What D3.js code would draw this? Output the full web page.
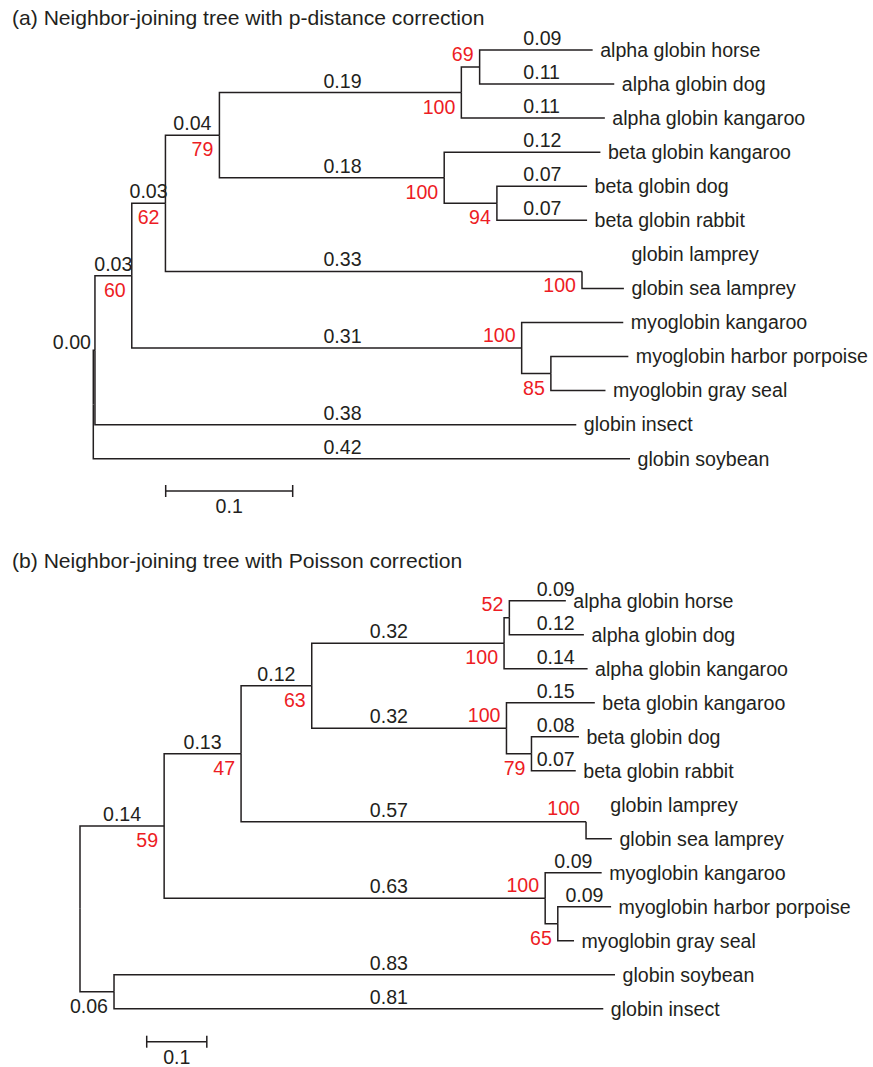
<!DOCTYPE html>
<html><head><meta charset="utf-8">
<script src="https://cdn.jsdelivr.net/npm/d3@7"></script>
<style>
body{margin:0;background:#fff}
svg{display:block}
text{font-family:"Liberation Sans",Arial,Helvetica,sans-serif;font-size:19.6px;fill:#231f20}
text.title{font-size:21.1px}
</style>
</head><body>
<svg id="chart" width="873" height="1067"></svg>
<script>
// ---------- Tree (a): p-distance ----------
const aIds = ["root","n00","n60","n62","n79","nAlpha","n69","alpha globin horse","alpha globin dog","alpha globin kangaroo","nBeta","beta globin kangaroo","n94","beta globin dog","beta globin rabbit","nLamprey","globin lamprey","globin sea lamprey","nMyo","myoglobin kangaroo","n85","myoglobin harbor porpoise","myoglobin gray seal","globin insect","globin soybean"];
const aParents = ["","root","n00","n60","n62","n79","nAlpha","n69","n69","nAlpha","n79","nBeta","nBeta","n94","n94","n62","nLamprey","nLamprey","n60","nMyo","nMyo","n85","n85","n00","root"];
const aLengths = [0,0.0013,0.029,0.0265,0.0425,0.1905,0.0144,0.089,0.106,0.113,0.177,0.123,0.0415,0.071,0.071,0.328,0.033,0.033,0.307,0.080,0.023,0.061,0.043,0.379,0.4226];
const aBootstrap = [null,null,60,62,79,100,69,null,null,null,100,null,94,null,null,100,null,null,100,null,85,null,null,null,null];
const aShowLength = [false,true,true,true,true,true,false,true,true,true,true,true,false,true,true,true,false,false,true,false,false,false,false,true,true];

// ---------- Tree (b): Poisson ----------
const bIds = ["root","n59","n47","n63","nAlpha","n52","alpha globin horse","alpha globin dog","alpha globin kangaroo","nBeta","beta globin kangaroo","n79","beta globin dog","beta globin rabbit","nLamprey","globin lamprey","globin sea lamprey","nMyo","myoglobin kangaroo","n65","myoglobin harbor porpoise","myoglobin gray seal","n06","globin soybean","globin insect"];
const bParents = ["","root","n59","n47","n63","nAlpha","n52","n52","nAlpha","n63","nBeta","nBeta","n79","n79","n47","nLamprey","nLamprey","n59","nMyo","nMyo","n65","n65","root","n06","n06"];
const bLengths = [0,0.14,0.128,0.1176,0.32,0.0088,0.094,0.124,0.139,0.324,0.147,0.0416,0.079,0.0737,0.574,0.028,0.043,0.634,0.094,0.021,0.0887,0.027,0.0566,0.8336,0.8141];
const bBootstrap = [null,59,47,63,100,52,null,null,null,100,null,79,null,null,100,null,null,100,null,65,null,null,null,null,null];
const bShowLength = [false,true,true,true,true,false,true,true,true,true,true,false,true,true,true,false,false,true,true,false,true,false,true,true,true];

const scaleBarLength = 0.1;

// ---------- layout (positions / styles) ----------
const panels = [
  {title:"(a) Neighbor-joining tree with p-distance correction", titleY:25,
   ids:aIds, parents:aParents, lengths:aLengths, boot:aBootstrap, show:aShowLength,
   x0:93.3, ppu:1270, y0:50, y1:458.7,
   hidden:["globin lamprey"], bootAbove:["n69","nMyo"], lenBelow:[],
   longMin:0.15, longCenter:0.1962, leafCol:0.3386, barStart:0.057, barY:491},
  {title:"(b) Neighbor-joining tree with Poisson correction", titleY:568.3,
   ids:bIds, parents:bParents, lengths:bLengths, boot:bBootstrap, show:bShowLength,
   x0:80, ppu:601, y0:600.7, y1:1008.7,
   hidden:["globin lamprey"], bootAbove:["n52","nBeta","nLamprey","nMyo"], lenBelow:["n06"],
   longMin:0.3, longCenter:0.514, leafCol:0.7598, barStart:0.111, barY:1041.7}
];

const ink = "#231f20", red = "#ed1c24";
const svg = d3.select("#chart");
const fmt = d3.format(".2f");

panels.forEach(P => {
  const g = svg.append("g");
  g.append("text").attr("class", "title").attr("x", 12).attr("y", P.titleY).text(P.title);

  const rows = P.ids.map((id, i) => ({id, parent: P.parents[i], len: P.lengths[i], boot: P.boot[i], show: P.show[i]}));
  const root = d3.stratify().id(d => d.id).parentId(d => d.parent || null)(rows);

  root.eachBefore(n => { n.dist = (n.parent ? n.parent.dist : 0) + n.data.len; });
  const leaves = root.leaves();
  const xs = d3.scaleLinear().domain([0, 1]).range([P.x0, P.x0 + P.ppu]);
  const ys = d3.scaleLinear().domain([0, leaves.length - 1]).range([P.y0, P.y1]);
  leaves.forEach((l, i) => l.idx = i);
  root.eachAfter(n => {
    if (n.children) n.pos = (n.children[0].pos + n.children[n.children.length - 1].pos) / 2;
    else n.pos = ys(n.idx);
  });

  const nodes = root.descendants().filter(n => n.parent);

  // branches
  g.append("g").selectAll("path")
    .data(nodes.filter(n => !P.hidden.includes(n.id)))
    .join("path")
    .attr("d", n => `M${xs(n.parent.dist)},${n.parent.pos}V${n.pos}H${xs(n.dist)}`)
    .attr("fill", "none").attr("stroke", ink).attr("stroke-width", 1.5);

  // leaf labels
  g.append("g").selectAll("text")
    .data(leaves)
    .join("text")
    .attr("x", n => xs(n.dist) + 7.5)
    .attr("y", n => n.pos + 6.8)
    .text(n => n.id);

  // branch length labels
  const lenG = g.append("g");
  nodes.filter(n => n.data.show).forEach(n => {
    const px = xs(n.parent.dist), cx = xs(n.dist);
    let x, y = n.pos - 5, anchor = "middle";
    if (n.data.len < 0.005) { x = cx - 4; y = n.pos - 1.5; anchor = "end"; }
    else if (P.lenBelow.includes(n.id)) { x = cx - 6; y = n.pos + 21; anchor = "end"; }
    else if (n.data.len >= P.longMin) { x = xs(P.longCenter); }
    else if (!n.children && px < xs(P.leafCol)) { x = xs(P.leafCol); anchor = "start"; }
    else { x = (px + cx) / 2; }
    lenG.append("text").attr("x", x).attr("y", y).attr("text-anchor", anchor).text(fmt(n.data.len));
  });

  // bootstrap values
  g.append("g").selectAll("text")
    .data(nodes.filter(n => n.data.boot != null))
    .join("text")
    .attr("x", n => xs(n.dist) - 6)
    .attr("y", n => P.bootAbove.includes(n.id) ? n.pos - 6.5 : n.pos + 21)
    .attr("text-anchor", "end")
    .style("fill", red)
    .text(n => n.data.boot);

  // scale bar
  const bx0 = xs(P.barStart), bx1 = xs(P.barStart + scaleBarLength);
  const sb = g.append("g").attr("stroke", ink).attr("stroke-width", 1.5);
  sb.append("line").attr("x1", bx0).attr("x2", bx1).attr("y1", P.barY).attr("y2", P.barY);
  [bx0, bx1].forEach(x => sb.append("line").attr("x1", x).attr("x2", x).attr("y1", P.barY - 6).attr("y2", P.barY + 6));
  g.append("text").attr("x", (bx0 + bx1) / 2).attr("y", P.barY + 22).attr("text-anchor", "middle").text(String(scaleBarLength));
});
</script>
</body></html>
